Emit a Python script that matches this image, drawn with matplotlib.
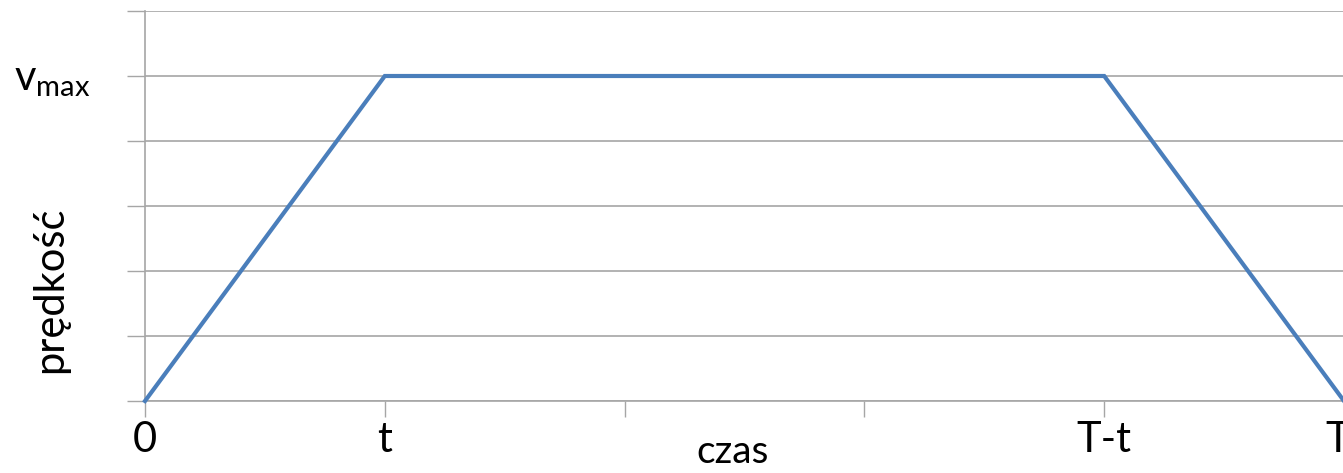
import matplotlib
matplotlib.use("Agg")
import matplotlib.pyplot as plt
from matplotlib.transforms import ScaledTranslation

plt.rcParams['font.family'] = ['Lato', 'DejaVu Sans']
plt.rcParams['mathtext.fontset'] = 'custom'
plt.rcParams['mathtext.rm'] = 'Lato'

x_pos = [0, 1, 2, 3, 4, 5]
x_labels = ['0', 't', '', '', 'T-t', 'T']
speed = [0, 5, 5, 5, 5, 0]
y_ticks = [0, 1, 2, 3, 4, 5, 6]
y_labels = ['', '', '', '', '', r'v$_{\mathrm{max}}$', '']

W, H = 1343, 473
fig = plt.figure(figsize=(W / 100, H / 100), dpi=100)
ax = fig.add_axes([145 / W, (H - 401) / H, 1199 / W, 390 / H])

grid_c = '#a6a6a6'
ax.plot(x_pos, speed, color='#4a7ebb', lw=3.0, clip_on=False, zorder=3,
        solid_joinstyle='miter')
ax.set_xlim(0, 5)
ax.set_ylim(0, 6)
ax.set_xticks(x_pos)
ax.set_xticklabels(x_labels, fontsize=30)
ax.set_yticks(y_ticks)
ax.set_yticklabels(y_labels, fontsize=30)
ax.yaxis.grid(True, color=grid_c, lw=1.2)
ax.set_axisbelow(True)
for s in ['top', 'right']:
    ax.spines[s].set_visible(False)
for s in ['left', 'bottom']:
    ax.spines[s].set_color(grid_c)
    ax.spines[s].set_linewidth(1.2)
ax.tick_params(axis='x', length=11.5, width=1.0, color=grid_c, pad=3)
ax.tick_params(axis='y', length=13, width=1.0, color=grid_c, pad=26)
# last label sits slightly inward, as in the reference
lbl = ax.get_xticklabels()[-1]
lbl.set_transform(lbl.get_transform() + ScaledTranslation(-6 / 100, 0, fig.dpi_scale_trans))
ax.set_xlabel('czas', fontsize=28, va='center')
ax.set_ylabel('prędkość', fontsize=30, va='center')
ax.xaxis.set_label_coords((733 - 145) / 1199, (401 - 452) / 390)
ax.yaxis.set_label_coords(-95 / 1199, (401 - 290) / 390)

fig.savefig('out.png', dpi=100)
